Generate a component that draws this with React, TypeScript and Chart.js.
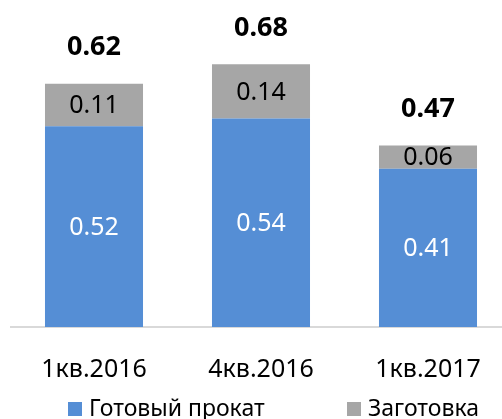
import React, { useEffect, useRef } from "react";
import { Chart, registerables } from "chart.js";

Chart.register(...registerables);

const categories = ["1кв.2016", "4кв.2016", "1кв.2017"];
const seriesNames = ["Готовый прокат", "Заготовка"];
const finished = [0.52, 0.54, 0.41];
const billets = [0.11, 0.14, 0.06];
const totals = [0.62, 0.68, 0.47];

const BLUE = "#558ED5";
const GRAY = "#A6A6A6";
const FONT = "'Noto Sans', 'Open Sans', sans-serif";

const labelsPlugin = {
  id: "valueLabels",
  afterDatasetsDraw(chart: any) {
    const ctx = chart.ctx;
    ctx.save();
    ctx.textAlign = "center";
    ctx.textBaseline = "middle";
    chart.data.datasets.forEach((ds: any, di: number) => {
      const meta = chart.getDatasetMeta(di);
      meta.data.forEach((bar: any, i: number) => {
        const v = ds.data[i];
        const mid = (bar.y + bar.base) / 2 + 1;
        ctx.font = `25px ${FONT}`;
        ctx.fillStyle = di === 0 ? "#FFFFFF" : "#000000";
        ctx.fillText(v.toFixed(2), bar.x, mid);
      });
    });
    const last = chart.getDatasetMeta(chart.data.datasets.length - 1);
    last.data.forEach((bar: any, i: number) => {
      ctx.font = `bold 27px ${FONT}`;
      ctx.fillStyle = "#000000";
      ctx.fillText(totals[i].toFixed(2), bar.x, bar.y - 36);
    });
    ctx.restore();
  },
  afterDraw(chart: any) {
    const ctx = chart.ctx;
    ctx.save();
    ctx.font = `23px ${FONT}`;
    ctx.textBaseline = "alphabetic";
    ctx.textAlign = "left";
    const starts = [68, 347];
    chart.data.datasets.forEach((ds: any, di: number) => {
      const x = starts[di];
      ctx.fillStyle = ds.backgroundColor;
      ctx.fillRect(x, 402, 14, 14);
      ctx.fillStyle = "#000000";
      ctx.fillText(ds.label, x + 21, 416);
    });
    ctx.restore();
  },
};

export default function App() {
  const ref = useRef<HTMLCanvasElement>(null);
  useEffect(() => {
    if (!ref.current) return;
    const chart = new Chart(ref.current, {
      type: "bar",
      data: {
        labels: categories,
        datasets: [
          { label: seriesNames[0], data: finished, backgroundColor: BLUE, barPercentage: 0.587, categoryPercentage: 1 },
          { label: seriesNames[1], data: billets, backgroundColor: GRAY, barPercentage: 0.587, categoryPercentage: 1 },
        ],
      },
      options: {
        responsive: false,
        animation: false,
        devicePixelRatio: 1,
        layout: { padding: { left: 10.5, right: 10.5, top: 18, bottom: 0 } },
        plugins: { legend: { display: false }, tooltip: { enabled: false } },
        scales: {
          x: {
            stacked: true,
            grid: { display: false, drawTicks: false },
            border: { display: true, color: "#D9D9D9", width: 2 },
            ticks: { color: "#000", font: { family: FONT, size: 25 }, padding: 28 },
            afterFit: (s: any) => { s.height = 92; },
          },
          y: {
            stacked: true,
            display: false,
            min: 0,
            max: 0.8,
          },
        },
      },
      plugins: [labelsPlugin],
    });
    return () => chart.destroy();
  }, []);
  return (
    <div style={{ position: "fixed", left: 0, top: 0, width: 502, height: 419, overflow: "hidden", background: "#fff" }}>
      <canvas ref={ref} width={522} height={419} style={{ width: 522, height: 419, display: "block" }} />
    </div>
  );
}
